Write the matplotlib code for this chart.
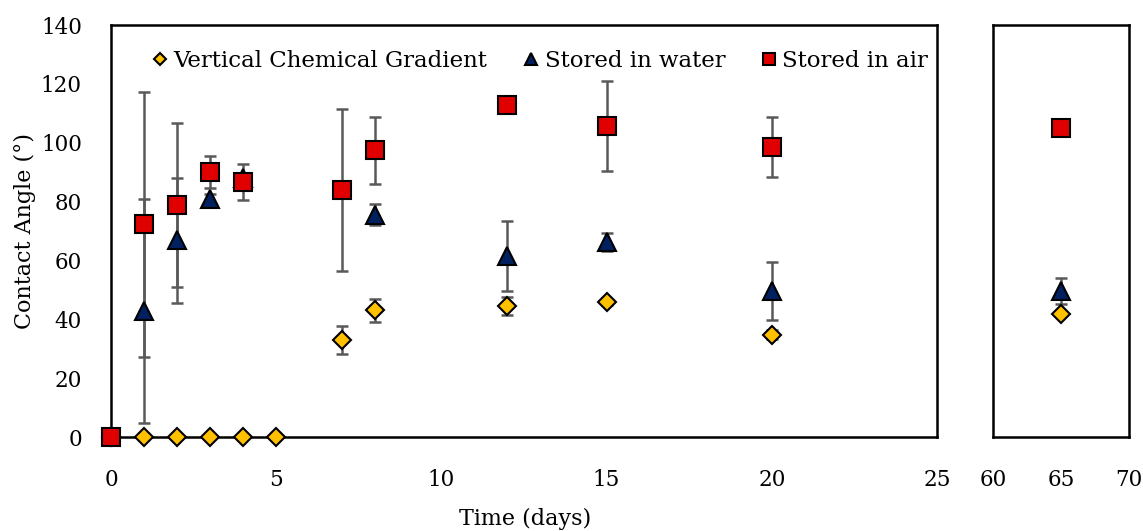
import matplotlib
matplotlib.use("Agg")
import matplotlib.pyplot as plt
import numpy as np

plt.rcParams['font.family'] = ['DejaVu Serif']

# Vertical Chemical Gradient
vcg_x = [0, 1, 2, 3, 4, 5, 7, 8, 12, 15, 20, 65]
vcg_y = [0, 0, 0, 0, 0, 0, 33, 43, 44.5, 45.8, 34.8, 41.8]
vcg_e = [0, 0, 0, 0, 0, 0, 4.7, 4.0, 3.2, 0.8, 1.5, 0.8]

# Stored in water
water_x = [1, 2, 3, 4, 8, 12, 15, 20, 65]
water_y = [42.8, 66.8, 81.0, 88.0, 75.6, 61.5, 66.2, 49.6, 49.6]
water_e = [38.0, 21.3, 1.5, 1.5, 3.6, 12.0, 3.0, 9.8, 4.5]

# Stored in air
air_x = [0, 1, 2, 3, 4, 7, 8, 12, 15, 20, 65]
air_y = [0, 72.3, 78.8, 90.1, 86.6, 83.9, 97.4, 112.8, 105.6, 98.6, 105.0]
air_e = [0, 45.0, 27.8, 5.5, 6.0, 27.5, 11.5, 0.5, 15.3, 10.3, 0.5]

x_main_ticks = [0, 5, 10, 15, 20, 25]
x_side_ticks = [60, 65, 70]
y_ticks = [0, 20, 40, 60, 80, 100, 120, 140]

fig = plt.figure(figsize=(11.43, 5.31), dpi=100)
ax1 = fig.add_axes([111/1143, 1-437/531, (937-111)/1143, (437-25)/531])
ax2 = fig.add_axes([993/1143, 1-437/531, (1129-993)/1143, (437-25)/531])

ecol = '#595959'
styles = [
    dict(marker='D', color='#FFC000', ms=9, label='Vertical Chemical Gradient'),
    dict(marker='^', color='#002060', ms=12.5, label='Stored in water'),
    dict(marker='s', color='#E00000', ms=12.5, label='Stored in air'),
]
series = [(vcg_x, vcg_y, vcg_e), (water_x, water_y, water_e), (air_x, air_y, air_e)]

handles = []
for ax in (ax1, ax2):
    for (xs, ys, es), st in zip(series, styles):
        xs = np.array(xs); ys = np.array(ys); es = np.array(es)
        if ax is ax1:
            m = xs <= 25
        else:
            m = xs >= 60
        ax.errorbar(xs[m], ys[m], yerr=es[m], fmt='none', ecolor=ecol,
                    elinewidth=1.8, capsize=4.5, capthick=1.8, zorder=2)
        h, = ax.plot(xs[m], ys[m], linestyle='none', marker=st['marker'],
                     markersize=st['ms'], markerfacecolor=st['color'],
                     markeredgecolor='black', markeredgewidth=1.5,
                     label=st['label'], zorder=3, clip_on=False)
        if ax is ax1:
            handles.append(h)

for ax in (ax1, ax2):
    ax.set_ylim(0, 140)
    ax.set_yticks(y_ticks)
    for s in ax.spines.values():
        s.set_linewidth(1.8)
        s.set_color('black')
    ax.tick_params(length=0, labelsize=15.5)
    ax.tick_params(axis='x', pad=23)
    ax.tick_params(axis='y', pad=21)

ax1.set_xlim(0, 25)
ax1.set_xticks(x_main_ticks)
ax2.set_xlim(60, 70)
ax2.set_xticks(x_side_ticks)
ax2.set_yticklabels([])

fig.text(25/1143, 1-231/531, 'Contact Angle (°)', rotation=90, ha='center', va='center', fontsize=16)
fig.text(525/1143, 1-519/531, 'Time (days)', ha='center', va='center', fontsize=16)

ax1.legend(handles=handles, loc='upper center', bbox_to_anchor=(0.52, 1.0), ncol=3,
           frameon=False, fontsize=16.5, markerscale=0.7, handlelength=0.6,
           handletextpad=0.3, columnspacing=1.6, borderaxespad=0.7)

fig.savefig('out.png', dpi=100)
